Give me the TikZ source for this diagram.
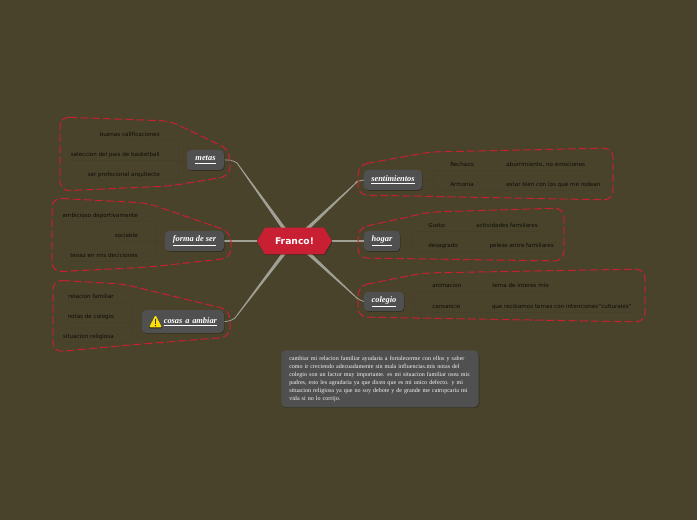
\documentclass[tikz,border=0pt]{standalone}
\usepackage{fontspec}
\setmainfont{DejaVu Sans}
\newfontfamily\serifnote{Liberation Serif}
\usetikzlibrary{calc,shapes.symbols,shadows,backgrounds}
\definecolor{bgcol}{HTML}{4A432C}
\definecolor{redcol}{HTML}{C81F33}
\definecolor{topiccol}{HTML}{505050}
\definecolor{faintcol}{HTML}{46402A}
\definecolor{branchcol}{HTML}{A0A094}
\definecolor{childcol}{HTML}{0C0C06}
\tikzset{
  x=0.75pt,y=-0.75pt,
  softshadow/.style={drop shadow={shadow xshift=0.5pt,shadow yshift=-0.6pt,opacity=0.3,fill=black}},
  topic/.style={fill=topiccol,rounded corners=3pt,inner sep=0pt,text=white,softshadow,
    font=\serifnote\bfseries\itshape\fontsize{6.3pt}{7pt}\selectfont},
  childtext/.style={text=childcol,inner xsep=0pt,inner ysep=1.5pt,text height=5.2pt,text depth=.8pt,
    font=\fontsize{4.2pt}{4.8pt}\selectfont},
  boundary/.style={draw=redcol,line width=.75pt,dash pattern=on 6pt off 2.4pt,rounded corners=7pt},
  faint/.style={draw=faintcol,line width=.5pt},
  thinbranch/.style={draw=branchcol,line width=.6pt,rounded corners=4pt},
  taper/.style={fill=branchcol},
}
\newcommand{\taperline}[2]{%
  \fill[taper] ($(#1)!1.35pt!90:(#2)$) -- ($(#2)!.3pt!-90:(#1)$) -- ($(#2)!.3pt!90:(#1)$) -- ($(#1)!1.35pt!-90:(#2)$) -- cycle;}
\newcommand{\topictext}[1]{\raisebox{-0.7pt}{\underline{#1}}}
\begin{document}
\begin{tikzpicture}
\useasboundingbox (0,0) rectangle (697,520);

% hub
\node[signal,signal to=west and east,signal pointer angle=118,fill=redcol,draw=none,
  minimum width=56.25pt,minimum height=20pt,inner sep=0pt,text=white,softshadow,
  font=\bfseries\fontsize{6.9pt}{7pt}\selectfont] (hub) at (294.5,241) {Franco!};

% topics
\node[topic,minimum width=27.75pt,minimum height=15pt] (metas) at (205.5,160) {\topictext{metas}};
\node[topic,minimum width=44.25pt,minimum height=15pt] (forma) at (194.5,241) {\topictext{forma de ser}};
\node[topic,minimum width=61.5pt,minimum height=17pt,text width=51pt,align=right] (cosas) at (183,321.5) {\topictext{cosas a ambiar}};
\node[topic,minimum width=43.5pt,minimum height=15pt] (senti) at (393,180) {\topictext{sentimientos}};
\node[topic,minimum width=27pt,minimum height=15pt] (hogar) at (382,241) {\topictext{hogar}};
\node[topic,minimum width=30pt,minimum height=14.5pt] (coleg) at (384,301.5) {\topictext{colegio}};

% warning icon
\fill[fill=black!45!bgcol,rounded corners=1pt] (155.5,315.5) -- (162.5,328.5) -- (148.5,328.5) -- cycle;
\fill[fill=yellow!80!orange,rounded corners=1pt] (155.5,315) -- (162,327.5) -- (149,327.5) -- cycle;
\fill[black!80] (154.8,319) rectangle (156.2,324);
\fill[black!80] (155.5,325.7) circle (.8);

% children: metas
\node[childtext,anchor=east] (m1) at (160,134) {buenas calificaciones};
\node[childtext,anchor=east] (m2) at (160,154) {seleccion del pais de basketball};
\node[childtext,anchor=east] (m3) at (160,174) {ser profecional arquitecto};
% children: forma
\node[childtext,anchor=east] (f1) at (138,215) {ambicioso deportivamente};
\node[childtext,anchor=east] (f2) at (138,235) {sociable};
\node[childtext,anchor=east] (f3) at (138,255) {tenaz en mis deciciones};
% children: cosas
\node[childtext,anchor=east] (c1) at (114,296) {relacion familiar};
\node[childtext,anchor=east] (c2) at (114,316) {notas de colegio};
\node[childtext,anchor=east] (c3) at (114,336) {situacion religiosa};
% children: sentimientos
\node[childtext,anchor=west] (s1) at (450,164) {Rechazo};
\node[childtext,anchor=west] (s2) at (450,184) {Armonia};
\node[childtext,anchor=west] (s1a) at (506,164) {aburrimiento, no emociones};
\node[childtext,anchor=west] (s2a) at (506,184) {estar bien con los que me rodean};
% children: hogar
\node[childtext,anchor=west] (h1) at (428,225) {Gusto};
\node[childtext,anchor=west] (h2) at (428,245) {desagrado};
\node[childtext,anchor=east] (h1a) at (538,225) {actividades familiares};
\node[childtext,anchor=east] (h2a) at (554,245) {peleas entre familiares};
% children: colegio
\node[childtext,anchor=west] (k1) at (432,285) {animacion};
\node[childtext,anchor=west] (k2) at (432,306) {cansancio};
\node[childtext,anchor=west] (k1a) at (492,285) {tema de interes mio};
\node[childtext,anchor=east] (k2a) at (632,306) {que recibamos temas con intenciones"culturales"};

% note
\node[fill=topiccol,rounded corners=3.5pt,softshadow,anchor=north west,minimum width=147.75pt,minimum height=42.75pt,
  inner xsep=6pt,inner ysep=4pt,text=white!95!black,align=left,text width=136pt,
  font=\serifnote\fontsize{4.55pt}{6pt}\selectfont] (note) at (281,350) {cambiar mi relacion familiar ayudaria a fortalecerme con ellos y saber\\
como ir creciendo adecuadamente sin mala influencias.mis notas del\\
colegio son un factor muy importante. es mi situacion familiar osea mis\\
padres, esto les agradaria ya que dicen que es mi unico defecto. y mi\\
situacion religiosa ya que no soy debote y de grande me catropcaria mi\\
vida si no lo corrijo.};

% junctions and ends of branches
\coordinate (jm) at (178,160);
\coordinate (jf) at (155,241);
\coordinate (jc) at (132,321);
\coordinate (js) at (433,180);
\coordinate (jh) at (411,241);
\coordinate (jk) at (415,301);
\coordinate (bm) at (237,163);
\coordinate (bc) at (235,318);
\coordinate (bs) at (358,181);
\coordinate (bk) at (358,299);
\coordinate (hm) at (285,230);
\coordinate (hc) at (285,252);
\coordinate (hs) at (306,230);
\coordinate (hk) at (307,252);

\begin{pgfonlayer}{background}
\fill[bgcol] (0,0) rectangle (697,520);

% faint child connectors
\draw[faint] (metas.west) -- (jm) (jm|-m1.south) -- (jm|-m3.south);
\draw[faint] (m1.south west) -- (m1.south-|jm) (m2.south west) -- (m2.south-|jm) (m3.south west) -- (m3.south-|jm);
\draw[faint] (forma.west) -- (jf) (jf|-f1.south) -- (jf|-f3.south);
\draw[faint] (f1.south west) -- (f1.south-|jf) (f2.south west) -- (f2.south-|jf) (f3.south west) -- (f3.south-|jf);
\draw[faint] (cosas.west) -- (jc) (jc|-c1.south) -- (jc|-c3.south);
\draw[faint] (c1.south west) -- (c1.south-|jc) (c2.south west) -- (c2.south-|jc) (c3.south west) -- (c3.south-|jc);
\draw[faint] (senti.east) -- (js) (js|-s1.south) -- (js|-s2.south);
\draw[faint] (js|-s1.south) -- (s1a.south east) (js|-s2.south) -- (s2a.south east);
\draw[faint] (hogar.east) -- (jh) (jh|-h1.south) -- (jh|-h2.south);
\draw[faint] (jh|-h1.south) -- (h1a.south east) (jh|-h2.south) -- (h2a.south east);
\draw[faint] (coleg.east) -- (jk) (jk|-k1.south) -- (jk|-k2.south);
\draw[faint] (jk|-k1.south) -- (k1a.south east) (jk|-k2.south) -- (k2a.south east);

% tapered branches
\taperline{hm}{bm}
\draw[thinbranch] (bm) -- (233,160) -- (metas.east);
\taperline{hc}{bc}
\draw[thinbranch] (bc) -- (232,321) -- (cosas.east);
\taperline{hs}{bs}
\draw[thinbranch] (bs) -- (360,180) -- (senti.west);
\taperline{hk}{bk}
\draw[thinbranch] (bk) -- (360,301) -- (coleg.west);
\draw[draw=branchcol,line width=1.2pt] (hub.west) -- (forma.east);
\draw[draw=branchcol,line width=1.2pt] (hub.east) -- (hogar.west);

% boundaries
\draw[boundary] (60,117) -- (170,121) -- (230,150) -- (230,176) -- (170,186) -- (60,191) -- cycle;
\draw[boundary] (52,198) -- (147,203) -- (231,232) -- (231,258) -- (150,267) -- (52,272) -- cycle;
\draw[boundary] (53,280) -- (123,284) -- (230,310) -- (230,337) -- (130,345) -- (53,352) -- cycle;
\draw[boundary] (358,165) -- (430,152) -- (613,148) -- (613,200) -- (358,195) -- cycle;
\draw[boundary] (358,228) -- (430,212) -- (564,208) -- (564,261) -- (358,258) -- cycle;
\draw[boundary] (358,286) -- (423,273) -- (645,269) -- (645,322) -- (358,317) -- cycle;
\end{pgfonlayer}
\end{tikzpicture}
\end{document}
